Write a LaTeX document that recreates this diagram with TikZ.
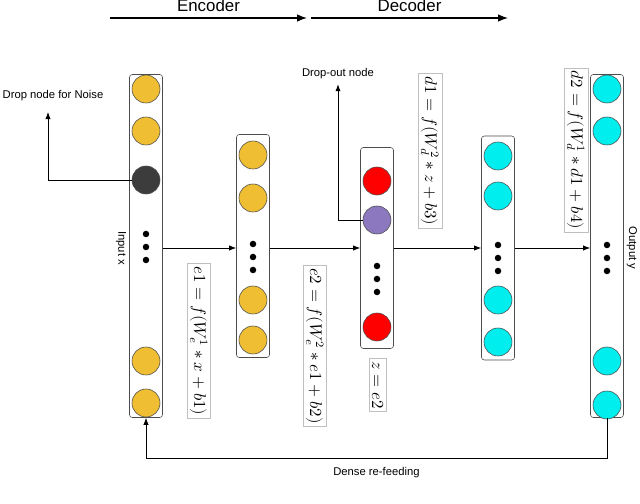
\documentclass[tikz,border=0pt]{standalone}
\usepackage{fontspec}
\setmainfont{Liberation Sans}
\usepackage{unicode-math}
\setmathfont{Latin Modern Math}
\usetikzlibrary{arrows.meta}
\tikzset{
  layer/.style={draw=black!70, rounded corners=2pt, fill=white, minimum width=33\px},
  unit/.style={circle, draw=black!70, minimum size=28\px, inner sep=0pt},
  dot/.style={circle, fill=black, minimum size=6.5\px, inner sep=0pt},
  eqbox/.style={draw=black!25, rotate=-90, inner sep=2pt, font=\large},
  lbl/.style={font=\footnotesize},
  arrow/.style={semithick, -{Latex[length=5pt]}},
  bigarrow/.style={thick, -{Latex[length=7pt]}}
}
\newcommand{\px}{*0.025cm}
\definecolor{encc}{RGB}{240,190,50}
\definecolor{decc}{RGB}{0,238,238}
\definecolor{latc}{RGB}{255,0,0}
\definecolor{dropc}{RGB}{140,120,190}
\definecolor{noisec}{RGB}{60,60,60}
\begin{document}
\begin{tikzpicture}[x=0.025cm, y=-0.025cm]
\useasboundingbox (0,0) rectangle (640,504);
% layers
\node (L1) [layer, minimum height=343\px] at (146,246) {};
\node (L2) [layer, minimum height=223\px] at (253,246) {};
\node (L3) [layer, minimum height=201\px] at (377,248) {};
\node (L4) [layer, minimum height=224\px] at (498,248) {};
\node (L5) [layer, minimum height=343\px] at (607,246) {};
% units
\foreach \y/\c/\n in {89/encc/a, 131/encc/b, 180/noisec/c, 361/encc/d, 403/encc/e}
  \node (L1\n) [unit, fill=\c] at (146,\y) {};
\foreach \y/\n in {155/a, 198/b, 300/c, 340/d}
  \node (L2\n) [unit, fill=encc] at (253,\y) {};
\foreach \y/\c/\n in {181/latc/a, 220/dropc/b, 327/latc/c}
  \node (L3\n) [unit, fill=\c] at (377,\y) {};
\foreach \y/\n in {156/a, 196/b, 300/c, 342/d}
  \node (L4\n) [unit, fill=decc] at (498,\y) {};
\foreach \y/\n in {89/a, 131/b, 361/c, 405/d}
  \node (L5\n) [unit, fill=decc] at (607,\y) {};
% dots
\foreach \x/\y in {146/234, 253/244, 377/266, 498/245, 607/245}
  \foreach \k in {0,1,2}
    \node[dot] at (\x,\y+13*\k) {};
% forward arrows
\draw [arrow] (L1.east |- 0,248) -- (L2.west |- 0,248);
\draw [arrow] (L2.east |- 0,248) -- (L3.west |- 0,248);
\draw [arrow] (L3.east |- 0,248) -- (L4.west |- 0,248);
\draw [arrow] (L4.east |- 0,248) -- (L5.west |- 0,248);
% encoder / decoder
\coordinate (e0) at (110,18);
\coordinate (e1) at (307,18);
\coordinate (d0) at (311,18);
\coordinate (d1) at (508,18);
\draw [bigarrow] (e0) -- node[above=1pt, font=\large] {Encoder} (e1);
\draw [bigarrow] (d0) -- node[above=1pt, font=\large] {Decoder} (d1);
% drop nodes
\node (noise) [lbl] at (53,96) {Drop node for Noise};
\coordinate (nup) at (48,112);
\draw [arrow] (L1c.west) -| (nup);
\node (drop) [lbl] at (338,74) {Drop-out node};
\draw [arrow] (L3b.west) -| (drop.south);
% equations
\node (eq1) [eqbox] at (199,341) {$e1=f(W_e^1*x+b1)$};
\node (eq2) [eqbox] at (315,346) {$e2=f(W_e^2*e1+b2)$};
\node (eqz) [eqbox] at (378,385) {$z=e2$};
\node (eq3) [eqbox] at (430,151) {$d1=f(W_d^2*z+b3)$};
\node (eq4) [eqbox] at (576,150) {$d2=f(W_d^1*d1+b4)$};
% side labels
\node (inx) [lbl, rotate=-90] at (121,248) {Input x};
\node (outy) [lbl, rotate=-90] at (632,248) {Output y};
% re-feeding
\coordinate (fb) at (607,458);
\draw [arrow] (L5.south) -- (fb) -| node[lbl, pos=0.25, below=3pt] {Dense re-feeding} (L1.south);
\end{tikzpicture}
\end{document}
